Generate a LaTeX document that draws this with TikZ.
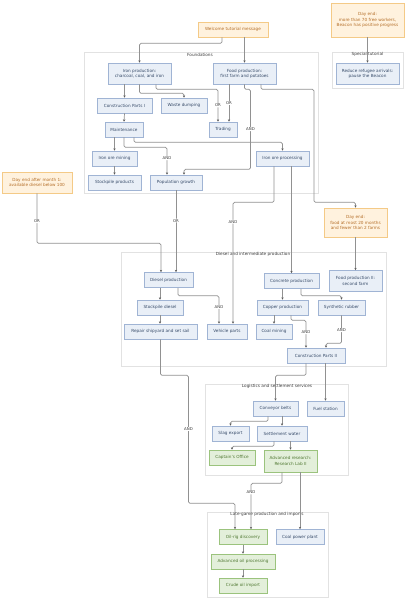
\documentclass[tikz,border=0pt]{standalone}
\usepackage{fontspec}
\setmainfont{DejaVu Sans}
\usetikzlibrary{arrows.meta}

\definecolor{boxfill}{RGB}{233,239,247}
\definecolor{boxline}{RGB}{160,180,212}
\definecolor{boxtext}{RGB}{55,75,105}
\definecolor{dayfill}{RGB}{255,242,222}
\definecolor{dayline}{RGB}{244,202,135}
\definecolor{daytext}{RGB}{180,110,40}
\definecolor{donefill}{RGB}{227,239,218}
\definecolor{doneline}{RGB}{155,195,125}
\definecolor{donetext}{RGB}{80,120,50}
\definecolor{groupline}{RGB}{226,226,226}
\definecolor{grouptext}{RGB}{60,60,60}
\definecolor{edgeline}{RGB}{145,145,145}
\definecolor{tipcol}{RGB}{90,90,90}

\tikzset{
  box/.style={draw=boxline, fill=boxfill, text=boxtext, line width=0.6pt, inner sep=0pt, align=center, font=\fontsize{4.2}{5.2}\selectfont},
  dayend/.style={box, draw=dayline, fill=dayfill, text=daytext},
  done/.style={box, draw=doneline, fill=donefill, text=donetext},
  group/.style={draw=groupline, line width=0.5pt},
  grouplabel/.style={text=grouptext, inner sep=0pt, font=\fontsize{4.2}{5}\selectfont},
  edge/.style={draw=edgeline, line width=0.7pt, rounded corners=1.5pt, -{Stealth[length=2.4pt,width=2.4pt,color=tipcol]}},
  lbl/.style={fill=white, inner sep=0.4pt, text=grouptext, font=\fontsize{3.9}{4.5}\selectfont},
}

\begin{document}
\begin{tikzpicture}[x=1pt, y=-1pt]
			%%%%% START %%%%%
			\useasboundingbox (0,0) rectangle (407,599);
			
			% groups
			\draw[group] (84,52) rectangle (318,193);
			\node[grouplabel] at (200,54.5) {Foundations};
			\draw[group] (332,52) rectangle (403,88);
			\node[grouplabel] at (367.5,54.5) {Special tutorial};
			\draw[group] (121,252) rectangle (386,366);
			\node[grouplabel] at (253,254.5) {Diesel and intermediate production};
			\draw[group] (205,384) rectangle (348,475);
			\node[grouplabel] at (277,386.5) {Logistics and settlement services};
			\draw[group] (207,512) rectangle (328,597);
			\node[grouplabel] at (267,514.5) {Late-game production and imports};
			
			% triggers
			\node[dayend, minimum width=70pt, minimum height=15pt] (welcome) at (233,29.5) {Welcome tutorial message};
			\node[dayend, minimum width=73pt, minimum height=34pt] (dayTop) at (367.5,20) {Day end:\\more than 70 free workers,\\Beacon has positive progress};
			\node[dayend, minimum width=70pt, minimum height=21pt] (dayMonth) at (37,182.5) {Day end after month 1:\\available diesel below 100};
			\node[dayend, minimum width=63pt, minimum height=29pt] (dayFood) at (355.5,222.5) {Day end:\\food at most 20 months\\and fewer than 2 farms};
			
			% foundations
			\node[box, minimum width=63pt, minimum height=21pt] (refugee) at (367.5,73.5) {Reduce refugee arrivals:\\pause the Beacon};
			\node[box, minimum width=63pt, minimum height=21pt] (ironProd) at (139.5,73.5) {Iron production:\\charcoal, coal, and iron};
			\node[box, minimum width=63pt, minimum height=21pt] (foodProd) at (244.5,73.5) {Food production:\\first farm and potatoes};
			\node[box, minimum width=55pt, minimum height=15pt] (partsI) at (124.5,105.5) {Construction Parts I};
			\node[box, minimum width=46pt, minimum height=15pt] (waste) at (184,105.5) {Waste dumping};
			\node[box, minimum width=28pt, minimum height=15pt] (trading) at (223,129.5) {Trading};
			\node[box, minimum width=38pt, minimum height=15pt] (maint) at (124,129.5) {Maintenance};
			\node[box, minimum width=45pt, minimum height=15pt] (oreMining) at (114.5,158.5) {Iron ore mining};
			\node[box, minimum width=53pt, minimum height=15pt] (oreProc) at (282.5,158.5) {Iron ore processing};
			\node[box, minimum width=53pt, minimum height=15pt] (stockProd) at (114.5,182.5) {Stockpile products};
			\node[box, minimum width=52pt, minimum height=15pt] (popGrowth) at (176,182.5) {Population growth};
			
			% diesel and intermediate
			\node[box, minimum width=49pt, minimum height=15pt] (diesel) at (168.5,280) {Diesel production};
			\node[box, minimum width=55pt, minimum height=15pt] (concrete) at (291.5,281) {Concrete production};
			\node[box, minimum width=53pt, minimum height=21pt] (foodII) at (355.5,281) {Food production II:\\second farm};
			\node[box, minimum width=46pt, minimum height=15pt] (stockDiesel) at (160,307.5) {Stockpile diesel};
			\node[box, minimum width=73pt, minimum height=15pt] (repair) at (160.5,331.5) {Repair shipyard and set sail};
			\node[box, minimum width=40pt, minimum height=15pt] (vehicle) at (227,331.5) {Vehicle parts};
			\node[box, minimum width=51pt, minimum height=15pt] (copper) at (282.5,307.5) {Copper production};
			\node[box, minimum width=47pt, minimum height=15pt] (rubber) at (341.5,307.5) {Synthetic rubber};
			\node[box, minimum width=36pt, minimum height=15pt] (coal) at (274,331.5) {Coal mining};
			\node[box, minimum width=58pt, minimum height=15pt] (partsII) at (316,355.5) {Construction Parts II};
			
			% logistics
			\node[box, minimum width=45pt, minimum height=15pt] (conveyor) at (275.5,408.5) {Conveyor belts};
			\node[box, minimum width=37pt, minimum height=15pt] (fuel) at (325.5,408.5) {Fuel station};
			\node[box, minimum width=37pt, minimum height=15pt] (slag) at (230.5,433.5) {Slag export};
			\node[box, minimum width=50pt, minimum height=15pt] (water) at (282,433.5) {Settlement water};
			\node[done, minimum width=46pt, minimum height=15pt] (captain) at (232,457.5) {Captain's Office};
			\node[done, minimum width=53pt, minimum height=22pt] (research) at (290.5,461) {Advanced research:\\Research Lab II};
			
			% late game
			\node[done, minimum width=48pt, minimum height=15pt] (oilRig) at (243,537) {Oil-rig discovery};
			\node[box, minimum width=48pt, minimum height=15pt] (coalPower) at (300,537) {Coal power plant};
			\node[done, minimum width=64pt, minimum height=15pt] (advOil) at (243,561.5) {Advanced oil processing};
			\node[done, minimum width=48pt, minimum height=15pt] (crude) at (243,585.5) {Crude oil import};
			
			% edges, top
			\draw[edge] ([xshift=-11pt]welcome.south) -- ++(0,6) -| (ironProd.north);
			\draw[edge] (welcome.south -| foodProd.north) -- (foodProd.north);
			\draw[edge] (dayTop.south) -- (refugee.north);
			
			% edges, foundations
			\draw[edge] (ironProd.south -| partsI.north) -- (partsI.north);
			\draw[edge] (ironProd.south) -- ++(0,9) -| (waste.north);
			\draw[edge] ([xshift=16.5pt]ironProd.south) -- ++(0,5) -| node[lbl, pos=0.75] {OR} ([xshift=-5pt]trading.north);
			\draw[edge] ([xshift=-15.5pt]foodProd.south) -- node[lbl] {OR} ([xshift=6pt]trading.north);
			\draw[edge] (foodProd.south) -- ++(0,5) -- ++(6,0) -- node[lbl] {AND} ++(0,80) -| ([xshift=8pt]popGrowth.north);
			\draw[edge] ([xshift=16.5pt]foodProd.south) -- ++(0,5) -- ++(53,0) -- ++(0,113) -| (dayFood.north);
			\draw[edge] (partsI.south) -- (maint.north);
			\draw[edge] (maint.south -| oreMining.north) -- (oreMining.north);
			\draw[edge] (maint.south) -- ++(0,10) -| node[lbl, pos=0.7] {AND} ([xshift=-9pt]popGrowth.north);
			\draw[edge] ([xshift=10pt]maint.south) -- ++(0,5) -| (oreProc.north);
			\draw[edge] (oreMining.south) -- (stockProd.north);
			\draw[edge] ([xshift=-8.5pt]oreProc.south) -- ++(0,36) -- ++(-41,0) -- node[lbl, pos=0.16] {AND} ([xshift=6pt]vehicle.north);
			\draw[edge] (oreProc.south -| concrete.north) -- (concrete.north);
			\draw[edge] (popGrowth.south) -- node[lbl, pos=0.37] {OR} ([xshift=7.5pt]diesel.north);
			\draw[edge] (dayMonth.south) -- node[lbl, pos=0.56] {OR} ++(0,50) -| ([xshift=-7.5pt]diesel.north);
			\draw[edge] (dayFood.south) -- (foodII.north);
			
			% edges, diesel and intermediate
			\draw[edge] (diesel.south -| stockDiesel.north) -- (stockDiesel.north);
			\draw[edge] ([xshift=9.5pt]diesel.south) -- ++(0,8) -| node[lbl, pos=0.7] {AND} ([xshift=-8pt]vehicle.north);
			\draw[edge] (stockDiesel.south) -- (stockDiesel.south |- repair.north);
			\draw[edge] (repair.south) -- ++(0,36) -- ++(28,0) -- node[lbl, pos=0.42] {AND} ++(0,128) -| ([xshift=-8pt]oilRig.north);
			\draw[edge] (concrete.south -| copper.north) -- (copper.north);
			\draw[edge] ([xshift=9.5pt]concrete.south) -- ++(0,7) -| (rubber.north);
			\draw[edge] (copper.south -| coal.north) -- (coal.north);
			\draw[edge] ([xshift=8.5pt]copper.south) -- ++(0,5) -| node[lbl, pos=0.72] {AND} ([xshift=-10pt]partsII.north);
			\draw[edge] (rubber.south) -- node[lbl, pos=0.54] {AND} ++(0,28) -| ([xshift=10pt]partsII.north);
			
			% edges, logistics
			\draw[edge] ([xshift=-10pt]partsII.south) -- ++(0,12) -| (conveyor.north);
			\draw[edge] (partsII.south -| fuel.north) -- (fuel.north);
			\draw[edge] ([xshift=-7.5pt]conveyor.south) -- ++(0,5) -| (slag.north);
			\draw[edge] (conveyor.south -| water.north) -- (water.north);
			\draw[edge] ([xshift=-8pt]water.south) -- ++(0,5) -| (captain.north);
			\draw[edge] (water.south -| research.north) -- (research.north);
			\draw[edge] ([xshift=-8.5pt]research.south) -- ++(0,11) -| node[lbl, pos=0.6] {AND} ([xshift=8pt]oilRig.north);
			\draw[edge] (research.south -| coalPower.north) -- (coalPower.north);
			
			% edges, late game
			\draw[edge] (oilRig.south) -- (advOil.north);
			\draw[edge] (advOil.south) -- (crude.north);
			%%%%% END %%%%%
\end{tikzpicture}
\end{document}
